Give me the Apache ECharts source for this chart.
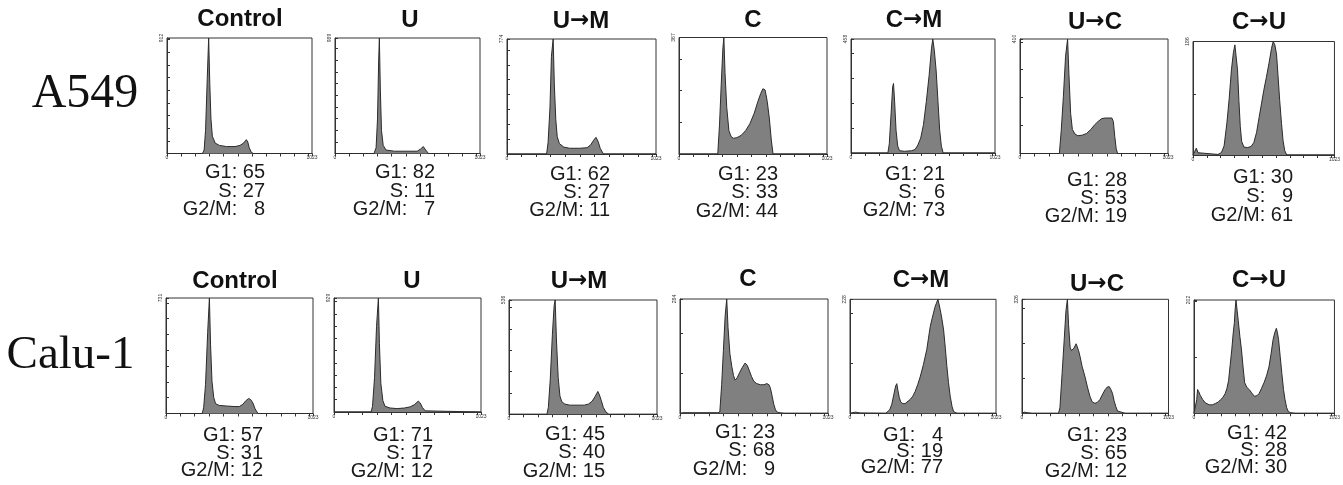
<!DOCTYPE html>
<html>
<head>
<meta charset="utf-8">
<script src="https://cdn.jsdelivr.net/npm/echarts@6/dist/echarts.min.js"></script>
<style>
html,body{margin:0;padding:0;background:#fff;}
#chart{width:1343px;height:485px;}
</style>
</head>
<body>
<div id="chart"></div>
<script>
// ---------------- DATA ----------------
const treatments = ['Control', 'U', 'U\u2192M', 'C', 'C\u2192M', 'U\u2192C', 'C\u2192U'];
const cellLines = ['A549', 'Calu-1'];

// y-axis maximum (counts) of each histogram
const yMaxA549 = [912, 989, 774, 367, 458, 410, 186];
const yMaxCalu = [731, 929, 536, 284, 228, 326, 202];

// cell-cycle percentages
const g1A549  = [65, 82, 62, 23, 21, 28, 30];
const sA549   = [27, 11, 27, 33, 6, 53, 9];
const g2mA549 = [8, 7, 11, 44, 73, 19, 61];
const g1Calu  = [57, 71, 45, 23, 4, 23, 42];
const sCalu   = [31, 17, 40, 68, 19, 65, 28];
const g2mCalu = [12, 12, 15, 9, 77, 12, 30];

// DNA histograms: [channel, % of panel maximum]
const a549Control = [[0,0],[250,0],[262,3],[272,20],[284,65],[294,100],[302,60],[310,30],[320,15],[340,9],[370,7],[420,6],[480,6],[515,7],[540,9],[560,12],[570,10],[580,5],[595,1],[610,0],[1023,0]];
const a549U = [[0,0],[275,0],[290,5],[300,30],[308,80],[313,100],[320,55],[328,20],[340,7],[360,3],[420,2],[500,2],[580,2],[605,4],[623,6],[640,3],[660,0],[1023,0]];
const a549UM = [[0,0],[272,0],[282,10],[295,40],[305,85],[317,100],[325,60],[335,30],[345,15],[360,9],[390,6],[430,5],[500,5],[550,5.5],[575,8],[595,12],[611,14.5],[625,11],[640,5],[662,0],[1023,0]];
const a549C = [[0,0],[268,0],[280,25],[292,60],[303,90],[310,100],[318,70],[330,40],[345,20],[360,15],[375,13.5],[400,14],[430,16],[460,20],[490,26],[520,35],[545,45],[565,52],[580,56],[595,55],[610,45],[625,30],[638,12],[650,0],[1023,0]];
const a549CM = [[0,0],[262,0],[272,8],[285,35],[296,58],[302,61],[310,45],[320,20],[332,6],[345,2],[380,1.5],[430,2],[455,3],[475,7],[495,13],[515,25],[535,45],[555,68],[572,92],[581,100],[592,90],[605,72],[618,45],[630,20],[642,6],[655,0],[1023,0]];
const a549UC = [[0,0],[272,0],[285,20],[300,50],[315,85],[329,100],[338,70],[350,35],[362,21],[380,17],[400,15.5],[430,16],[460,17.5],[490,21],[515,25],[540,28],[565,30.5],[590,31],[615,31],[635,31],[645,28],[655,15],[665,4],[675,0],[1023,0]];
const a549CU = [[0,0],[12,3],[24,6],[36,2],[50,0.5],[180,0.5],[205,2],[225,8],[245,28],[262,50],[278,75],[292,90],[303,97],[313,96],[322,75],[332,48],[342,25],[352,12],[368,7],[395,6.5],[420,7.5],[440,11],[460,20],[478,33],[495,45],[512,57],[530,68],[550,81],[568,94],[580,100],[592,97],[604,89],[615,70],[627,48],[640,28],[651,13],[663,4],[678,0],[1023,0]];

const caluControl = [[0,0],[252,0],[262,5],[275,25],[290,70],[302,100],[310,60],[320,28],[332,14],[345,8.5],[370,7],[420,6.5],[480,6],[510,6],[535,8],[555,11],[575,13],[590,12],[605,9],[620,4],[640,0],[1023,0]];
const caluU = [[0,0],[258,0],[268,5],[282,30],[296,75],[309,100],[316,60],[326,25],[340,10],[355,5],[390,3.5],[440,3],[490,3.5],[530,4.5],[560,6.5],[586,9.5],[600,8],[615,4],[635,1],[648,0],[1023,0]];
const caluUM = [[0,0],[262,0],[272,6],[285,30],[300,70],[312,95],[319,100],[328,65],[340,32],[352,16],[365,11],[385,9],[420,8],[470,8],[520,8],[550,9],[575,11.5],[595,15.5],[614,20],[625,17],[638,12],[652,6],[670,2],[690,0],[1023,0]];
const caluC = [[0,0],[20,0.5],[260,0.5],[275,1],[288,25],[300,55],[312,85],[323,100],[332,75],[345,52],[358,41],[370,33],[381,29],[395,31],[410,35],[430,40],[450,44],[465,42],[480,37],[495,32],[510,28],[530,26],[555,25],[580,25],[600,26],[615,25],[625,22],[637,15],[648,8],[660,3],[672,1],[690,0.5],[720,0],[1023,0]];
const caluCM = [[0,0],[15,0.5],[40,1],[70,0.3],[250,0],[262,0.5],[278,3],[293,8],[308,17],[320,24],[328,26],[336,20],[345,14],[355,10],[370,8.5],[386,8.5],[400,9.5],[421,12],[440,15],[456,19],[474,25],[492,32],[515,43],[538,56],[550,66],[562,76],[575,83],[585,88],[595,93],[604,96],[616,100],[625,95],[632,91],[645,82],[656,73],[668,57],[679,41],[690,27],[702,15],[715,6],[726,1.5],[750,0],[1023,0]];
const caluUC = [[0,0],[15,1],[40,0.5],[70,0],[255,0],[265,5],[280,35],[295,65],[307,90],[317,100],[325,78],[336,58],[345,55],[352,55.5],[362,57],[370,59],[378,61],[386,61],[395,55],[405,50],[420,41],[440,32],[457,23],[474,15],[490,10],[509,8.8],[525,9.5],[544,12],[560,16],[579,20.5],[595,23],[609,23.4],[620,21],[632,17.5],[643,11],[655,6],[667,2],[680,0.8],[720,0],[1023,0]];
const caluCU = [[0,0],[14,0],[20,12],[26,21],[35,19],[45,16],[64,12],[85,9],[111,7.5],[135,7.5],[158,8.8],[178,10],[193,12],[210,14],[228,17.6],[240,22],[252,29],[263,42],[275,56],[285,70],[294,80],[300,92],[306,100],[314,91],[322,82],[334,68],[346,56],[358,40],[369,27],[385,23],[405,20.6],[420,18],[440,15],[458,15.5],[475,17.6],[492,22],[510,27],[528,33],[546,41],[562,53],[576,65],[588,71],[600,75],[608,71],[616,65],[628,50],[640,35],[652,21],[663,12],[675,5],[687,1.5],[705,0.5],[740,0],[1023,0]];

const histA549 = [a549Control, a549U, a549UM, a549C, a549CM, a549UC, a549CU];
const histCalu = [caluControl, caluU, caluUM, caluC, caluCM, caluUC, caluCU];

// ---------------- LAYOUT ----------------
// [left, top, width, height] of each plot frame
const boxesA549 = [[167,38,145,115.5],[335,38,145,115.5],[507,39,149,115],[679,37.5,148,116.5],[851,39,144,114],[1020,39,148,114.5],[1193,41.5,144,113.5]];
const boxesCalu = [[166,298,147,115.5],[334,298,147,114],[509,300,148,114.3],[680,299,148,114.3],[850,299.3,146,114],[1022,299.3,146.5,114],[1194,300,145,113.3]];
// title centre [x, y]
const titlePosA549 = [[240,19],[410,20],[581,21],[753,20],[914,20],[1095,22],[1259,22.5]];
const titlePosCalu = [[235,281.5],[412,281],[579,281.5],[748,279],[921,280],[1097,284],[1259,280.5]];
// stats block [right x, first line centre y, line gap]
const statPosA549 = [[265,172.8,18.2],[435,172.8,18.2],[610,174,18],[778,174,18.8],[945,174,18],[1127,180.8,18],[1293,177.5,19.2]];
const statPosCalu = [[263,435.8,17.5],[433,435.8,17.8],[605,434,18.5],[775,432.5,18.25],[943,435,16.25],[1127,435,18],[1287,433,17.25]];

// ---------------- BUILD ----------------
const chart = echarts.init(document.getElementById('chart'), null, {renderer: 'canvas'});
const grids = [], xAxes = [], yAxes = [], series = [], graphics = [];
const SANS = '"Liberation Sans", Arial, Helvetica, sans-serif';
const SERIF = '"Liberation Serif", "Times New Roman", serif';

function pad(v){ return (v < 10 ? '  ' : '') + v; }

function titleText(label) {
  return label.split('\u2192').map(p => '{t|' + p + '}').join('{ar|\u2192}');
}
const titleRich = {
  t: {fontFamily: SANS, fontWeight: 'bold', fontSize: 24, fill: '#111', color: '#111'},
  ar: {fontFamily: '"DejaVu Sans"', fontWeight: 'bold', fontSize: 23, fill: '#111', color: '#111'}
};

function addRow(boxes, yMaxes, hists, titlePos, statPos, g1, s, g2m) {
  boxes.forEach((b, i) => {
    const idx = grids.length;
    const yMax = yMaxes[i];
    grids.push({left: b[0], top: b[1], width: b[2], height: b[3], show: true,
      borderColor: '#333', borderWidth: 1, backgroundColor: 'transparent', containLabel: false});
    xAxes.push({type: 'value', gridIndex: idx, min: 0, max: 1023, interval: 100,
      axisLine: {show: true, onZero: false, lineStyle: {color: '#333', width: 1}},
      axisTick: {show: true, inside: false, length: 3, lineStyle: {color: '#333'}},
      splitLine: {show: false},
      axisLabel: {show: true, fontSize: 5, margin: 2, color: '#333', fontFamily: SANS,
        showMinLabel: true, showMaxLabel: true,
        formatter: v => (v === 0 || v === 1023) ? String(v) : ''}});
    yAxes.push({type: 'value', gridIndex: idx, min: 0, max: yMax, interval: 100,
      axisLine: {show: true, lineStyle: {color: '#333', width: 1}},
      axisTick: {show: true, inside: true, length: 3, lineStyle: {color: '#333'}},
      splitLine: {show: false},
      axisLabel: {show: true, fontSize: 5, margin: 3, rotate: 90, color: '#333', fontFamily: SANS,
        showMaxLabel: true, showMinLabel: false,
        formatter: v => v === yMax ? String(v) : ''}});
    series.push({type: 'line', xAxisIndex: idx, yAxisIndex: idx, symbol: 'none', silent: true,
      animation: false, smooth: false,
      lineStyle: {color: '#2b2b2b', width: 1},
      areaStyle: {color: '#808080', opacity: 1},
      data: hists[i].map(p => [p[0], p[1] * yMax / 100])});
    const tp = titlePos[i];
    graphics.push({type: 'text', x: tp[0], y: tp[1], silent: true,
      style: {text: titleText(treatments[i]), rich: titleRich, fill: '#111', font: 'bold 24px ' + SANS,
        align: 'center', verticalAlign: 'middle', textAlign: 'center', textVerticalAlign: 'middle'}});
    const sp = statPos[i];
    const lines = ['G1: ' + pad(g1[i]), 'S: ' + pad(s[i]), 'G2/M: ' + pad(g2m[i])];
    lines.forEach((t, k) => {
      graphics.push({type: 'text', x: sp[0], y: sp[1] + k * sp[2], silent: true,
        style: {text: t, fill: '#1a1a1a', font: '20px ' + SANS,
          align: 'right', verticalAlign: 'middle', textAlign: 'right', textVerticalAlign: 'middle'}});
    });
  });
}

addRow(boxesA549, yMaxA549, histA549, titlePosA549, statPosA549, g1A549, sA549, g2mA549);
addRow(boxesCalu, yMaxCalu, histCalu, titlePosCalu, statPosCalu, g1Calu, sCalu, g2mCalu);

graphics.push({type: 'text', x: 85, y: 94.5, silent: true,
  style: {text: cellLines[0], fill: '#111', font: '48px ' + SERIF,
    align: 'center', verticalAlign: 'middle', textAlign: 'center', textVerticalAlign: 'middle'}});
graphics.push({type: 'text', x: 70.5, y: 355.5, silent: true,
  style: {text: cellLines[1], fill: '#111', font: '47px ' + SERIF,
    align: 'center', verticalAlign: 'middle', textAlign: 'center', textVerticalAlign: 'middle'}});

chart.setOption({
  animation: false,
  backgroundColor: '#ffffff',
  grid: grids,
  xAxis: xAxes,
  yAxis: yAxes,
  series: series,
  graphic: graphics
});
</script>
</body>
</html>
